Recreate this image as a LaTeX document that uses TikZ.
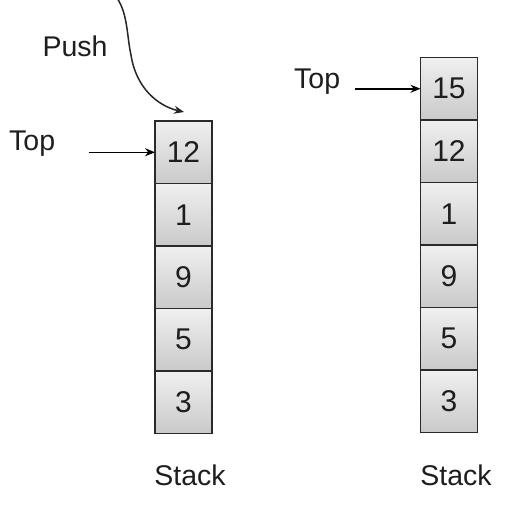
\documentclass[tikz,border=0pt]{standalone}
\usepackage{fontspec}
\setmainfont{Liberation Sans}
\usetikzlibrary{arrows.meta}
\definecolor{edgegray}{HTML}{2A2A2A}
\definecolor{txtgray}{HTML}{1E1E1E}
\tikzset{
  cell/.style={draw=edgegray, line width=1.8pt, minimum width=57pt, minimum height=62.5pt,
    inner sep=0pt, outer sep=0pt, top color=white!94!black, bottom color=white!79!black,
    text=txtgray, font=\fontsize{30}{30}\selectfont},
  lbl/.style={inner sep=0pt, text=txtgray, font=\fontsize{28.5}{28.5}\selectfont},
  ptr/.style={draw=black, line width=1.5pt, -{Stealth[length=10pt,width=8pt]}},
  pushcurve/.style={draw=black!85, line width=1.5pt, -{Stealth[length=10pt,width=8pt]}}
}
\begin{document}
\begin{tikzpicture}[x=1pt,y=-1pt]
\useasboundingbox[fill=white] (0,0) rectangle (512,512);
% left stack
\node[cell] (l1) at (183.5,152.25) {12};
\node[cell] (l2) at (183.5,214.75) {1};
\node[cell] (l3) at (183.5,277.25) {9};
\node[cell] (l4) at (183.5,339.75) {5};
\node[cell] (l5) at (183.5,402.25) {3};
% right stack
\node[cell] (r0) at (449,88.75) {15};
\node[cell] (r1) at (449,151.25) {12};
\node[cell] (r2) at (449,213.75) {1};
\node[cell] (r3) at (449,276.25) {9};
\node[cell] (r4) at (449,338.75) {5};
\node[cell] (r5) at (449,401.25) {3};
% labels
\node[lbl, anchor=base] (push) at (75,56) {Push};
\node[lbl, anchor=base west] (topL) at (9,150) {Top};
\node[lbl, anchor=base west] (topR) at (294,88) {Top};
\node[lbl, anchor=base] (stL) at (190,485) {Stack};
\node[lbl, anchor=base] (stR) at (456,485) {Stack};
% connectors
\coordinate (aL) at (89,152.25);
\coordinate (aR) at (355,88.75);
\draw[ptr] (aL) -- (l1.west);
\draw[ptr] (aR) -- (r0.west);
\coordinate (ps) at (117,-2);
\coordinate (pm) at (131,55);
\coordinate (pe) at (184,112);
\draw[pushcurve] (ps) .. controls (128,14) and (127,38) .. (pm)
  .. controls (136,88) and (158,106) .. (pe);
\end{tikzpicture}
\end{document}
